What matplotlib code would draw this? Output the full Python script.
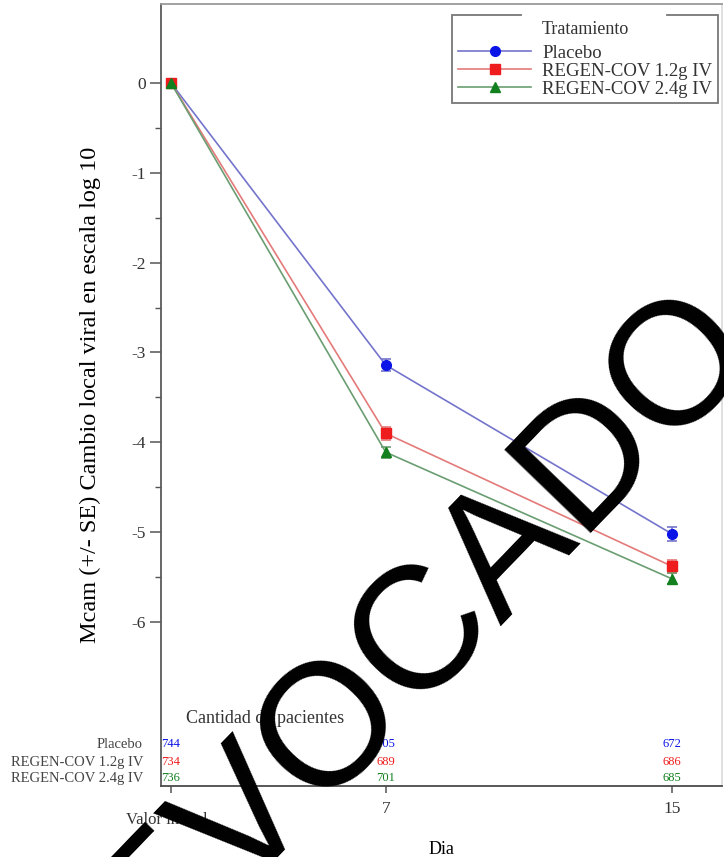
import matplotlib
matplotlib.use("Agg")
import matplotlib.pyplot as plt
from matplotlib.lines import Line2D
from matplotlib.transforms import IdentityTransform

# datos
days = [1, 7, 15]
day_labels = ["Valor inicial", "7", "15"]
groups = ["Placebo", "REGEN-COV 1.2g IV", "REGEN-COV 2.4g IV"]
placebo_mean = [0.0, -3.14, -5.02]
placebo_se = [0.0, 0.07, 0.08]
regen12_mean = [0.0, -3.90, -5.38]
regen12_se = [0.0, 0.07, 0.07]
regen24_mean = [0.0, -4.11, -5.52]
regen24_se = [0.0, 0.06, 0.06]
placebo_n = [744, 705, 672]
regen12_n = [734, 689, 686]
regen24_n = [736, 701, 685]
y_ticks = [0, -1, -2, -3, -4, -5, -6]
y_minor = [-0.5, -1.5, -2.5, -3.5, -4.5, -5.5]

means = [placebo_mean, regen12_mean, regen24_mean]
ses = [placebo_se, regen12_se, regen24_se]
counts = [placebo_n, regen12_n, regen24_n]
line_colors = ["#7474cc", "#e47a7a", "#6a9e72"]
mark_colors = ["#0a14e6", "#ee1c1c", "#12801e"]
markers = ["o", "s", "^"]

plt.rcParams["font.family"] = ["Liberation Serif", "DejaVu Serif"]
plt.rcParams["text.color"] = "#333333"

fig = plt.figure(figsize=(7.24, 8.57), dpi=100)
ax = fig.add_axes([0.2224, 0.0828, 0.7749, 0.9125])

for i in range(3):
    ax.errorbar(days, means[i], yerr=ses[i], fmt="none", ecolor=line_colors[i],
                elinewidth=1.2, capsize=3.6, capthick=1.2, zorder=2)
    ax.plot(days, means[i], color=line_colors[i], lw=1.2, marker=markers[i],
            markersize=7, markerfacecolor=mark_colors[i],
            markeredgecolor=mark_colors[i], label=groups[i], zorder=3 + i)

ax.set_xlim(0.7204, 16.398)
ax.set_ylim(-7.826, 0.879)

ax.set_xticks(days)
ax.set_xticklabels(["", day_labels[1], day_labels[2]])
ax.annotate(day_labels[0], xy=(days[0], 0), xycoords=("data", "axes fraction"),
            xytext=(-3, -19), textcoords="offset points", ha="center", va="top",
            fontsize=12, color="#333333")
ax.set_yticks(y_ticks)
ax.set_yticks(y_minor, minor=True)
ax.set_yticklabels([str(v) for v in y_ticks])

ax.tick_params(axis="both", which="major", direction="out", colors="#555555",
               labelcolor="#333333", labelsize=12.5)
ax.tick_params(axis="y", which="major", length=8, width=1.1, pad=3)
ax.tick_params(axis="y", which="minor", length=4.5, width=1.0, colors="#555555")
ax.tick_params(axis="x", which="major", length=5, width=1.1, pad=5.5)

for side, col in [("left", "#5a5a5a"), ("bottom", "#4a4a4a"),
                  ("top", "#9a9a9a"), ("right", "#dddddd")]:
    ax.spines[side].set_color(col)
    ax.spines[side].set_linewidth(1.3)

ax.set_ylabel("Mcam (+/- SE) Cambio local viral en escala log 10", fontsize=17.5)
ax.yaxis.set_label_coords(-0.107, 0.5)
ax.set_xlabel("Dia", fontsize=13, va="top")
ax.xaxis.set_label_coords(0.5, -0.070)

# tabla de pacientes dentro del grafico
ax.text(0.045, 0.087, "Cantidad de pacientes", transform=ax.transAxes,
        fontsize=13, ha="left", va="center")
row_y = [0.0537, 0.0307, 0.0102]
for i in range(3):
    ax.text(-0.032, row_y[i], groups[i], transform=ax.transAxes, fontsize=10.5,
            ha="right", va="center", color="#444444")
    for d, n in zip(days, counts[i]):
        ax.text(d, row_y[i], str(n), transform=ax.get_xaxis_transform(),
                fontsize=9, ha="center", va="center", color=mark_colors[i])

leg = ax.legend(title="Tratamiento", loc="upper right",
                bbox_to_anchor=(0.993, 0.986), borderaxespad=0, fontsize=13.5,
                title_fontsize=13, handlelength=3.9, handletextpad=0.6,
                labelspacing=0.05, borderpad=0.3, fancybox=False,
                framealpha=1, edgecolor="#777777")
leg.get_frame().set_linewidth(1.3)
leg._legend_box.sep = 5  # espacio entre titulo y entradas

# hueco en el borde superior de la leyenda alrededor del titulo
fig.canvas.draw()
tb = leg.get_title().get_window_extent()
fb = leg.get_frame().get_window_extent()
fig.add_artist(Line2D([tb.x0 - 18, tb.x1 + 35], [fb.y1, fb.y1],
                      transform=IdentityTransform(), color="white", lw=3))

# marca de agua
fig.text(0.526, 0.218, "REVOCADO", fontsize=125, rotation=46,
         rotation_mode="anchor", ha="center", va="center", color="black",
         family="Liberation Sans", zorder=10)

fig.savefig("out.png", dpi=100)
plt.close(fig)
